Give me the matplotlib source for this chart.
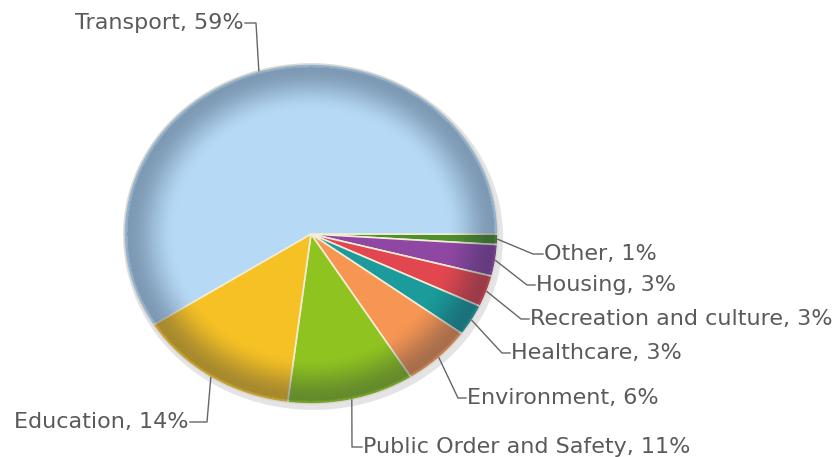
import numpy as np
import matplotlib
matplotlib.use("Agg")
import matplotlib.pyplot as plt
from matplotlib.patches import Circle

# data (clockwise from 3 o'clock)
labels = ["Other", "Housing", "Recreation and culture", "Healthcare",
          "Environment", "Public Order and Safety", "Education", "Transport"]
shares = [1, 3, 3, 3, 6, 11, 14, 59]
colors = ["#4f8f2c", "#8e47a3", "#e2474f", "#1b9b9b",
          "#f79653", "#8fc420", "#f6c125", "#b6daf6"]

# layout in image pixels (x right, y down)
W, H = 837, 457
cx, cy, rx, ry = 311, 234, 187, 170
text_xy = [(543, 254), (535, 285), (529, 319), (510, 353),
           (466, 398), (362, 447), (190, 422), (245, 23)]
elbow_xy = [(533, 254), (527, 285), (521, 319), (502, 353),
            (458, 398), (352, 447), (207, 422), (256, 23)]


def to_data(p):
    return ((p[0] - cx) / rx, (cy - p[1]) / ry)


fig = plt.figure(figsize=(W / 100, H / 100), dpi=100)
fig.patch.set_facecolor("white")
ax = fig.add_axes([(cx - rx) / W, (H - cy - ry) / H, 2 * rx / W, 2 * ry / H])

# soft shadow behind the pie
ax.add_patch(Circle((0.012, -0.02), 1.015, color="#888888", alpha=0.22,
                    zorder=0, lw=0, clip_on=False))

wedges, _ = ax.pie(shares, colors=colors, startangle=0, counterclock=False,
                   radius=1, wedgeprops=dict(edgecolor="#f3ecd6", linewidth=1.2))
for w in wedges:
    w.set_zorder(1)
    w.set_clip_on(False)

ax.set_aspect("auto")
ax.set_xlim(-1, 1)
ax.set_ylim(-1, 1)
ax.axis("off")

# darkening toward the rim
n = 400
g = np.linspace(-1, 1, n)
xx, yy = np.meshgrid(g, g)
r = np.sqrt(xx ** 2 + yy ** 2)
t = np.clip((r - 0.72) / 0.26, 0, 1)
alpha = 0.36 * t * t * (3 - 2 * t)
alpha[r > 0.985] *= 0.6
shade = np.zeros((n, n, 4))
shade[..., 0] = 0.1
shade[..., 1] = 0.15
shade[..., 2] = 0.25
shade[..., 3] = alpha
im = ax.imshow(shade, extent=[-1, 1, -1, 1], origin="lower", zorder=2,
               interpolation="bilinear", aspect="auto")
clip = Circle((0, 0), 1, transform=ax.transData)
im.set_clip_path(clip)
ax.add_patch(Circle((0, 0), 1, fill=False, edgecolor="#d8d8d8", lw=1.0,
                    zorder=3, clip_on=False))

# labels with elbow connectors
for w, lab, s, txy, exy in zip(wedges, labels, shares, text_xy, elbow_xy):
    mid = np.deg2rad((w.theta1 + w.theta2) / 2)
    edge = (np.cos(mid), np.sin(mid))
    tx, ty = to_data(txy)
    ex, ey = to_data(exy)
    left = txy[0] < exy[0]
    ax.plot([edge[0], ex, tx], [edge[1], ey, ty], color="#666666", lw=1.0,
            clip_on=False, zorder=4)
    pad = -1 / rx if left else 1 / rx
    ax.text(tx + pad, ty, f"{lab}, {s}%", ha="right" if left else "left",
            va="center", fontsize=16, color="#5a5a5a", clip_on=False,
            family="DejaVu Sans")

fig.savefig("out.png", dpi=100, facecolor="white")
